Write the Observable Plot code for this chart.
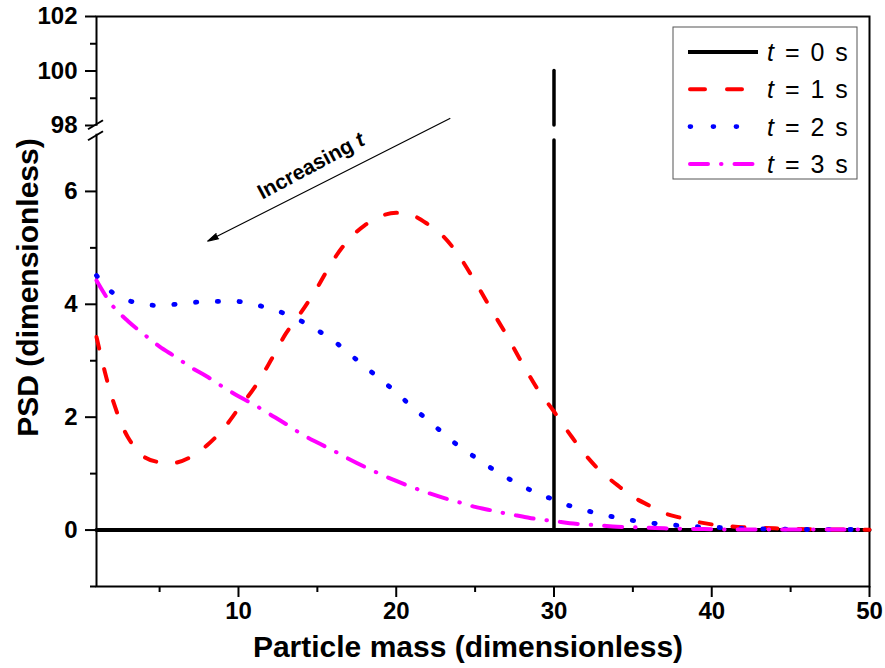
<!DOCTYPE html>
<html>
<head>
<meta charset="utf-8">
<script src="https://cdn.jsdelivr.net/npm/d3@7"></script>
<script src="https://cdn.jsdelivr.net/npm/@observablehq/plot@0.6"></script>
<style>
  body { margin: 0; background: #fff; }
  #chart { width: 885px; height: 668px; }
</style>
</head>
<body>
<div id="chart"></div>
<script>
// ---------------- data ----------------
const mass = [1,2,3,4,5,6,7,8,9,10,11,12,13,14,15,16,17,18,19,20,21,22,23,24,25,26,27,28,29,30,31,32,33,34,35,36,37,38,39,40,41,42,43,44,45,46,47,48,49,50];
const psdT1 = [3.42,2.33,1.64,1.30,1.20,1.19,1.30,1.50,1.78,2.15,2.52,2.98,3.48,3.87,4.30,4.78,5.15,5.40,5.56,5.62,5.58,5.42,5.20,4.85,4.40,3.92,3.45,2.95,2.48,2.10,1.70,1.33,1.03,0.80,0.59,0.44,0.30,0.22,0.15,0.10,0.07,0.05,0.04,0.03,0.02,0.015,0.01,0.01,0.005,0.005];
const psdT2 = [4.51,4.21,4.07,4.00,3.98,4.00,4.03,4.05,4.05,4.05,4.00,3.92,3.83,3.70,3.54,3.36,3.13,2.90,2.67,2.44,2.18,1.95,1.71,1.48,1.29,1.10,0.93,0.78,0.64,0.54,0.43,0.35,0.28,0.22,0.17,0.13,0.10,0.08,0.06,0.05,0.04,0.03,0.02,0.02,0.015,0.01,0.01,0.01,0.01,0.01];
const psdT3 = [4.42,3.98,3.70,3.47,3.25,3.07,2.88,2.72,2.54,2.37,2.22,2.05,1.88,1.70,1.55,1.41,1.26,1.12,0.99,0.87,0.76,0.66,0.57,0.49,0.41,0.35,0.29,0.24,0.19,0.16,0.12,0.10,0.08,0.06,0.05,0.04,0.03,0.025,0.02,0.015,0.01,0.01,0.01,0.01,0.01,0.01,0.01,0.01,0.01,0.01];
// t = 0: zero everywhere, a spike to 100 at mass 30 (drawn across the axis break)
const t0Mass = [1, 50];
const t0Value = [0, 0];
const spikeMass = 30;
const spikeLower = [0, 6.9];
const spikeUpper = [98, 100];

const seriesTimes = ["0", "1", "2", "3"];
const seriesColors = ["#000000", "#ff0000", "#0000ff", "#ff00ff"];
const seriesDash = [null, "12,21", "1.3,20.5", "18,13,0.5,13"];
const legendDash = [null, "15,22", "0.8,22.2", "18,13,0.5,13"];

const xMajorTicks = [10, 20, 30, 40, 50];
const xMinorTicks = [5, 15, 25, 35, 45];
const yMajorTicks = [0, 2, 4, 6, 98, 100, 102];
const yMinorTicks = [-1, 1, 3, 5, 99, 101];
const yLow = [-1, 7];      // lower part of the broken axis
const yHigh = [98, 102];   // upper part of the broken axis
const xDomain = [1, 50];

const arrowStart = [23.4, 98.26];
const arrowEnd = [8.05, 5.12];
const annotPos = [14.6, 6.45];
const annotText = "Increasing t";
const xTitle = "Particle mass (dimensionless)";
const yTitle = "PSD (dimensionless)";

// ---------------- build ----------------
const rows = mass.map((m, i) => ({mass: m, t1: psdT1[i], t2: psdT2[i], t3: psdT3[i]}));
const t0Rows = t0Mass.map((m, i) => ({mass: m, v: t0Value[i]}));
const spikeRows = [
  {mass: spikeMass, y1: spikeLower[0], y2: spikeLower[1]},
  {mass: spikeMass, y1: spikeUpper[0], y2: spikeUpper[1]}
];
const FONT = "'Liberation Sans', Arial, sans-serif";

const W = 885, H = 668, mL = 96, mR = 16, mT = 16, mB = 82;
// broken-axis geometry: gap between parts and relative compression of the upper part
const GAP = 0.168, UPPER_RATIO = 0.4828;
const brk = v => v <= yLow[1] ? v : yLow[1] + GAP + (v - yHigh[0]) * UPPER_RATIO;
const yTop = brk(yHigh[1]);
const fmt = d => String(d);

function breakMarks(index, scales, values, dims) {
  const x0 = dims.marginLeft;
  const yMid = dims.marginTop + (dims.height - dims.marginTop - dims.marginBottom) * (yTop - (yLow[1] + GAP / 2)) / (yTop - yLow[0]);
  const g = d3.create("svg:g");
  g.append("rect").attr("x", x0 - 3).attr("y", yMid - 4).attr("width", 6).attr("height", 8).attr("fill", "white");
  [-5, 6].forEach(off => {
    g.append("line")
      .attr("x1", x0 - 8).attr("y1", yMid + off + 4.5)
      .attr("x2", x0 + 7).attr("y2", yMid + off - 4.5)
      .attr("stroke", "black").attr("stroke-width", 2);
  });
  return g.node();
}

function legendMark(index, scales, values, dims) {
  const right = dims.width - dims.marginRight - 12;
  const boxW = 184, boxH = 152;
  const left = right - boxW;
  const top = dims.marginTop + 11;
  const g = d3.create("svg:g");
  g.append("rect").attr("x", left).attr("y", top).attr("width", boxW).attr("height", boxH)
    .attr("fill", "white").attr("stroke", "#555").attr("stroke-width", 1);
  seriesTimes.forEach((t, i) => {
    const cy = top + 25 + i * 37.3;
    const ln = g.append("line")
      .attr("x1", left + 17).attr("x2", left + 83)
      .attr("y1", cy).attr("y2", cy)
      .attr("stroke", seriesColors[i]).attr("stroke-width", i === 2 ? 4.8 : 4)
      .attr("stroke-linecap", i === 0 ? "butt" : "round");
    if (legendDash[i]) ln.attr("stroke-dasharray", legendDash[i]);
    if (i === 0) ln.attr("x1", left + 15).attr("x2", left + 85);
    const tx = g.append("text").attr("x", left + 94).attr("y", cy).attr("dy", "0.36em")
      .attr("text-anchor", "start").attr("word-spacing", 4)
      .attr("font-size", 25).attr("font-family", FONT).attr("fill", "black");
    tx.append("tspan").attr("font-style", "italic").text("t");
    tx.append("tspan").text(" = " + t + " s");
  });
  return g.node();
}

const chart = Plot.plot({
  width: W, height: H,
  marginLeft: mL, marginRight: mR, marginTop: mT, marginBottom: mB,
  style: {fontFamily: FONT, color: "black", background: "white", overflow: "visible"},
  x: {domain: xDomain},
  y: {domain: [yLow[0], yTop], transform: brk},
  marks: [
    Plot.axisX(xMajorTicks, {tickSize: 11, tickPadding: 4, fontSize: 24, fontWeight: "bold", strokeWidth: 2, tickFormat: fmt, label: null}),
    Plot.axisX(xMinorTicks, {tickSize: 6, tickFormat: () => "", strokeWidth: 2, label: null}),
    Plot.axisY(yMajorTicks, {tickSize: 11, tickPadding: 8, fontSize: 24, fontWeight: "bold", strokeWidth: 2, tickFormat: fmt, label: null}),
    Plot.axisY(yMinorTicks, {tickSize: 6, tickFormat: () => "", strokeWidth: 2, label: null}),
    Plot.frame({stroke: "black", strokeWidth: 2}),
    // t = 0
    Plot.line(t0Rows, {x: "mass", y: "v", stroke: seriesColors[0], strokeWidth: 4}),
    Plot.ruleX(spikeRows, {x: "mass", y1: "y1", y2: "y2", stroke: seriesColors[0], strokeWidth: 3.5, strokeLinecap: "round"}),
    // t = 1, 2, 3
    Plot.line(rows, {x: "mass", y: "t1", stroke: seriesColors[1], strokeWidth: 4, strokeDasharray: seriesDash[1], strokeLinecap: "round", curve: "catmull-rom"}),
    Plot.line(rows, {x: "mass", y: "t2", stroke: seriesColors[2], strokeWidth: 4.8, strokeDasharray: seriesDash[2], strokeLinecap: "round", curve: "catmull-rom"}),
    Plot.line(rows, {x: "mass", y: "t3", stroke: seriesColors[3], strokeWidth: 4, strokeDasharray: seriesDash[3], strokeLinecap: "round", curve: "catmull-rom"}),
    // annotation
    Plot.arrow([{x1: arrowStart[0], y1: arrowStart[1], x2: arrowEnd[0], y2: arrowEnd[1]}],
      {x1: "x1", y1: "y1", x2: "x2", y2: "y2", stroke: "black", fill: "black", strokeWidth: 1.2, headLength: 14, headAngle: 30}),
    Plot.text([{x: annotPos[0], y: annotPos[1], label: annotText}],
      {x: "x", y: "y", text: "label", rotate: -28, fontSize: 21, fontWeight: "bold"}),
    // axis titles
    Plot.text([xTitle], {frameAnchor: "bottom", dx: -15, dy: 70, fontSize: 30, fontWeight: "bold"}),
    Plot.text([yTitle], {frameAnchor: "left", textAnchor: "middle", dx: -68, dy: -14, rotate: -90, fontSize: 30, fontWeight: "bold"}),
    breakMarks,
    legendMark
  ]
});

// italic "t" inside the annotation
d3.select(chart).selectAll("text").filter(function () { return this.textContent === annotText; })
  .each(function () {
    const el = d3.select(this);
    el.text(null);
    el.append("tspan").text("Increasing ");
    el.append("tspan").attr("font-style", "italic").text("t");
  });

document.getElementById("chart").appendChild(chart);
</script>
</body>
</html>
